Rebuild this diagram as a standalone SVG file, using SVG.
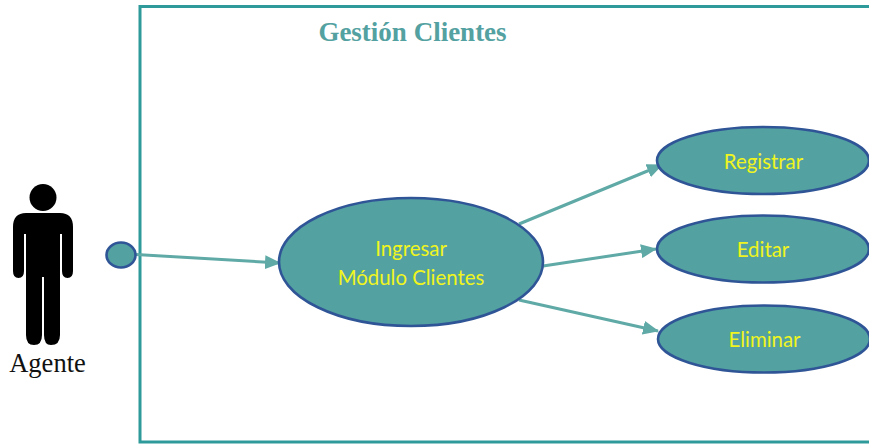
<svg xmlns="http://www.w3.org/2000/svg" width="869" height="445" viewBox="0 0 869 445">
<style>
.uc{fill:#53a1a1;stroke:#2f5597;stroke-width:2.6}
.lbl{font-family:Lato,"Open Sans",sans-serif;font-size:20.400px;fill:#f0f51e;text-anchor:middle}
.con{stroke:#5fa9a6;stroke-width:3;fill:none;marker-end:url(#arr)}
</style>
<defs>
<marker id="arr" markerUnits="userSpaceOnUse" markerWidth="16" markerHeight="14" refX="15" refY="7" orient="auto">
<path d="M0 0L16 7L0 14Z" fill="#5fa9a6"/>
</marker>
</defs>
<rect width="869" height="445" fill="#fff"/>
<g id="system">
<path d="M871 6.500H140V442H871" fill="none" stroke="#2f9a9a" stroke-width="3"/>
<text x="412.500" y="41" font-family="Liberation Serif,serif" font-weight="bold" font-size="27" fill="#53a1a1" text-anchor="middle">Gestión Clientes</text>
</g>
<g id="connectors">
<path class="con" d="M136 254.500L280 263"/>
<path class="con" d="M519 224L662 165"/>
<path class="con" d="M543 266L656 249"/>
<path class="con" d="M519 300L658 331"/>
</g>
<g id="actor">
<circle cx="43" cy="197.500" r="13.500" fill="#000"/>
<path d="M26 213H60Q73 213 73 227V271Q73 278 67.500 278Q62 278 62 271V234H60V335Q60 345 51 345Q44 345 44 335V277H42V335Q42 345 34 345Q26 345 26 335V234H24V271Q24 278 18.500 278Q13 278 13 271V227Q13 213 26 213Z" fill="#000"/>
<text x="47.500" y="372" font-family="Liberation Serif,serif" font-size="26.500" fill="#111" text-anchor="middle">Agente</text>
</g>
<g id="port"><ellipse class="uc" cx="121" cy="255" rx="14.500" ry="12.500"/></g>
<g id="ingresar">
<ellipse class="uc" cx="411" cy="262" rx="132" ry="64"/>
<text class="lbl" x="411" y="256">Ingresar</text>
<text class="lbl" x="411" y="285">Módulo Clientes</text>
</g>
<g id="registrar">
<ellipse class="uc" cx="763" cy="160.500" rx="106" ry="33.500"/>
<text class="lbl" x="763.500" y="169">Registrar</text>
</g>
<g id="editar">
<ellipse class="uc" cx="763" cy="249" rx="106" ry="33.500"/>
<text class="lbl" x="763" y="257">Editar</text>
</g>
<g id="eliminar">
<ellipse class="uc" cx="764" cy="339" rx="106" ry="33.500"/>
<text class="lbl" x="764.500" y="346.500">Eliminar</text>
</g>
</svg>
